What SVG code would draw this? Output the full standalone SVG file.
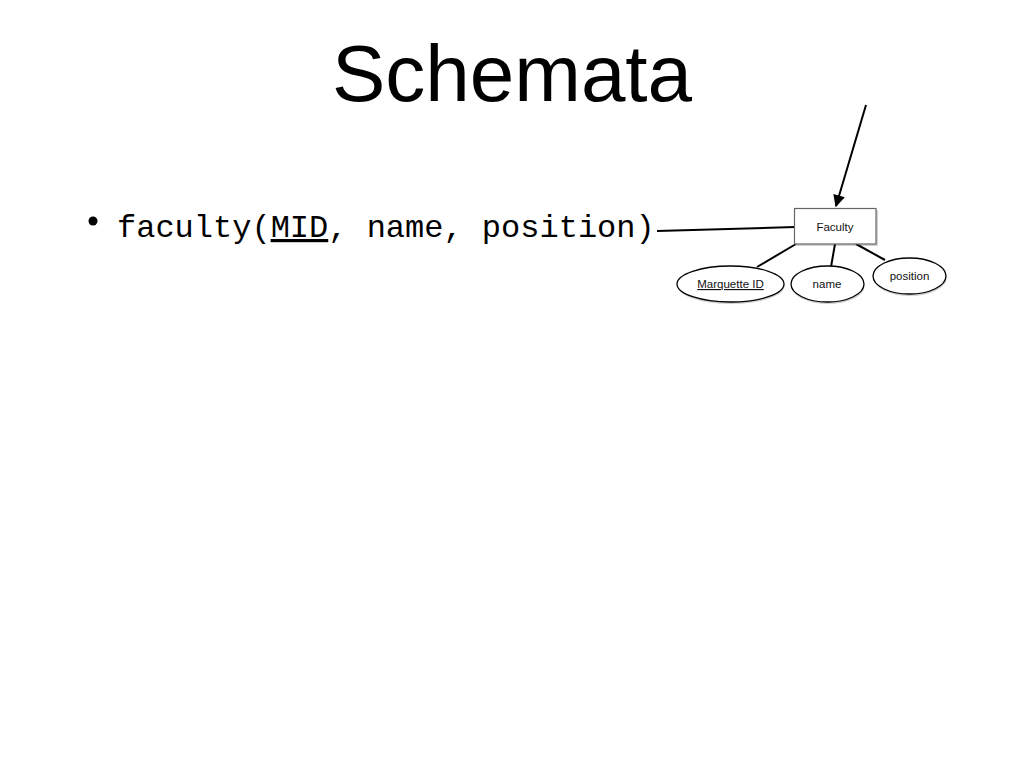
<svg xmlns="http://www.w3.org/2000/svg" width="1024" height="768" viewBox="0 0 1024 768">
<style>
.title{font-family:"Liberation Sans",Arial,sans-serif;font-size:80px;fill:#000}
.mono{font-family:"Courier New","Liberation Mono",monospace;font-size:32px;fill:#000}
.lbl{font-family:"Liberation Sans",Arial,sans-serif;font-size:11.5px;fill:#111;text-anchor:middle}
.conn{stroke:#000;stroke-width:2;fill:none}
.ell{fill:#fff;stroke:#000;stroke-width:1.3}
.shadow{fill:#000;opacity:0.18}
</style>
<defs>
<marker id="ah" viewBox="0 0 10 10" refX="9" refY="5" markerWidth="7" markerHeight="6" orient="auto" markerUnits="strokeWidth">
<path d="M0,0 L10,5 L0,10 Z" fill="#000"/>
</marker>
</defs>
<rect width="1024" height="768" fill="#fff"/>
<text class="title" x="512" y="101" text-anchor="middle">Schemata</text>
<circle cx="93" cy="221" r="4.5" fill="#000"/>
<text class="mono" x="117" y="237">faculty(<tspan text-decoration="underline">MID</tspan>, name, position)</text>
<g id="connectors">
<line class="conn" x1="657" y1="231" x2="795" y2="227"/>
<line class="conn" x1="866" y1="105" x2="836" y2="206" marker-end="url(#ah)"/>
<line class="conn" x1="796" y1="244" x2="757" y2="267"/>
<line class="conn" x1="835" y1="244" x2="831" y2="267"/>
<line class="conn" x1="856" y1="244" x2="885" y2="260"/>
</g>
<g id="faculty">
<rect class="shadow" x="796" y="210" width="82" height="36"/>
<rect x="794.5" y="208.5" width="81.5" height="35.5" fill="#fff" stroke="#666" stroke-width="1.2"/>
<text class="lbl" x="835" y="231" font-size="12.5">Faculty</text>
</g>
<g id="marquette-id">
<ellipse class="shadow" cx="731" cy="286" rx="53.5" ry="18"/>
<ellipse class="ell" cx="730.5" cy="284" rx="53.5" ry="18"/>
<text class="lbl" x="730.5" y="288" text-decoration="underline">Marquette ID</text>
</g>
<g id="name">
<ellipse class="shadow" cx="828" cy="286" rx="36.5" ry="18"/>
<ellipse class="ell" cx="827.5" cy="284" rx="36.5" ry="18"/>
<text class="lbl" x="827" y="288">name</text>
</g>
<g id="position">
<ellipse class="shadow" cx="910" cy="278" rx="36.5" ry="18"/>
<ellipse class="ell" cx="909.5" cy="276" rx="36.5" ry="18"/>
<text class="lbl" x="909.5" y="280">position</text>
</g>
</svg>
